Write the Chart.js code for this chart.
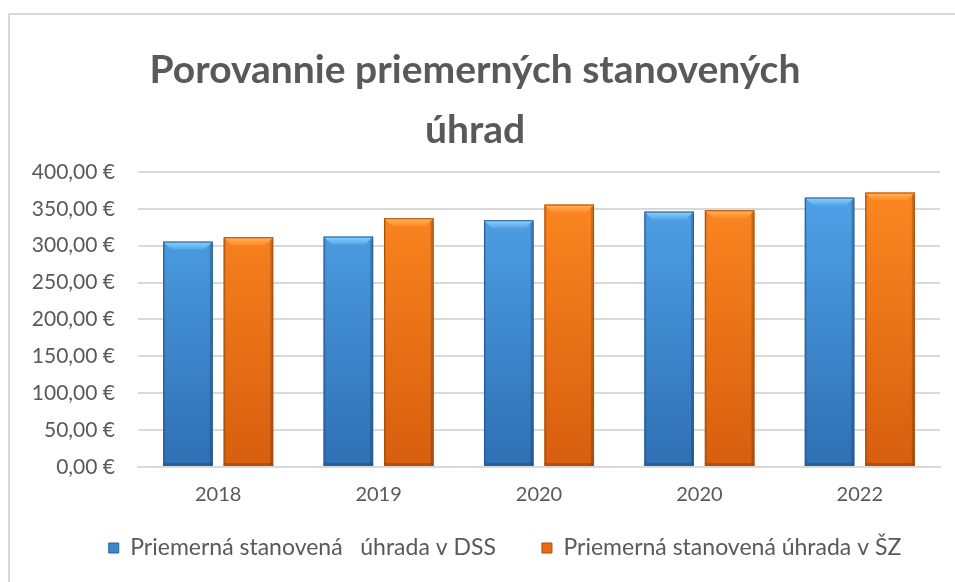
<!DOCTYPE html>
<html>
<head>
<meta charset="utf-8">
<title>Porovannie priemerných stanovených úhrad</title>
<script src="https://cdn.jsdelivr.net/npm/chart.js@4"></script>
<style>
    html, body { margin: 0; padding: 0; background: #ffffff; }
    #wrap { width: 955px; height: 582px; position: relative; }
</style>
</head>
<body>
<div id="wrap"><canvas id="chart"></canvas></div>
<script>
// údaje z grafu
const categories = ["2018", "2019", "2020", "2020", "2022"];
const dssValues = [305.5, 312.3, 334.5, 346.2, 365.2];
const szValues = [311.4, 337.2, 355.7, 348.0, 372.0];
const seriesNames = ["Priemerná stanovená   úhrada v DSS", "Priemerná stanovená úhrada v ŠZ"];
const titleLines = ["Porovannie priemerných stanovených", "úhrad"];
const yMax = 400;
const yStep = 50;

const FONT = "Lato, 'Open Sans', sans-serif";
const TEXT = "#595959";

// farby pre stĺpce
const palette = [
    { top: "#52a6ec", bottom: "#2f6fb3", cap: "#8fd2f8", edge: "#2a5f98", key: "#3c86d0" },
    { top: "#ff8a22", bottom: "#d65e0e", cap: "#ffb55e", edge: "#a9500d", key: "#e96a12" }
];

function faceGradient(idx) {
    return function (ctx) {
        const chart = ctx.chart;
        const area = chart.chartArea;
        if (!area) return palette[idx].top;
        const g = chart.ctx.createLinearGradient(0, area.top, 0, area.bottom);
        g.addColorStop(0, palette[idx].top);
        g.addColorStop(1, palette[idx].bottom);
        return g;
    };
}

function euro(v) {
    return v.toFixed(2).replace(".", ",") + " €";
}

// rámček okolo grafu (vľavo a hore)
const framePlugin = {
    id: "frame",
    beforeDraw(chart) {
        const c = chart.ctx;
        c.save();
        c.strokeStyle = "#d9d9d9";
        c.lineWidth = 2;
        c.beginPath();
        c.moveTo(9, 600);
        c.lineTo(9, 14);
        c.lineTo(970, 14);
        c.stroke();
        c.restore();
    }
};

// legenda je v origináli posunutá doprava
const legendShift = {
    id: "legendShift",
    afterLayout(chart) {
        const lg = chart.legend;
        lg.left += 30;
        lg.right += 30;
        const top = 548 - lg.options.labels.padding - 11.5;
        lg.bottom = top + lg.height;
        lg.top = top;
    }
};

// skosenie hornej hrany stĺpcov
const bevelPlugin = {
    id: "bevel",
    afterDatasetsDraw(chart) {
        const c = chart.ctx;
        chart.data.datasets.forEach((ds, di) => {
            const meta = chart.getDatasetMeta(di);
            const col = palette[di];
            meta.data.forEach(el => {
                const p = el.getProps(["x", "y", "base", "width"], true);
                const l = p.x - p.width / 2;
                const r = p.x + p.width / 2;
                const b = 8;
                c.save();
                const g = c.createLinearGradient(0, p.y, 0, p.y + b);
                g.addColorStop(0, col.cap);
                g.addColorStop(1, col.top);
                c.fillStyle = g;
                c.beginPath();
                c.moveTo(l, p.y);
                c.lineTo(r, p.y);
                c.lineTo(r - b, p.y + b);
                c.lineTo(l + b, p.y + b);
                c.closePath();
                c.fill();
                c.fillStyle = "rgba(0,0,0,0.18)";
                c.fillRect(r - 3, p.y + 2, 3, p.base - p.y - 2);
                c.fillStyle = "rgba(0,0,0,0.10)";
                c.fillRect(l, p.y + 2, 2, p.base - p.y - 2);
                c.fillStyle = "rgba(0,0,0,0.15)";
                c.fillRect(l, p.base - 3, p.width, 3);
                c.strokeStyle = col.edge;
                c.lineWidth = 1;
                c.strokeRect(l + 0.5, p.y + 0.5, p.width - 1, p.base - p.y - 1);
                c.restore();
            });
        });
    }
};

new Chart(document.getElementById("chart"), {
    type: "bar",
    data: {
        labels: categories,
        datasets: [
            { label: seriesNames[0], data: dssValues, backgroundColor: faceGradient(0) },
            { label: seriesNames[1], data: szValues, backgroundColor: faceGradient(1) }
        ]
    },
    options: {
        responsive: true,
        maintainAspectRatio: false,
        animation: false,
        layout: { padding: { left: 10, right: 15, top: 28, bottom: -24 } },
        datasets: {
            bar: { categoryPercentage: 0.754, barPercentage: 0.82 }
        },
        scales: {
            x: {
                grid: { display: false },
                border: { color: "#d9d9d9", width: 2 },
                ticks: { color: TEXT, font: { family: FONT, size: 20 }, padding: 8 },
                afterFit(scale) { scale.height = 60; }
            },
            y: {
                min: 0,
                max: yMax,
                grid: { color: "#d9d9d9", lineWidth: 2, drawTicks: false },
                border: { display: false },
                ticks: {
                    stepSize: yStep,
                    color: TEXT,
                    padding: 23,
                    font: { family: FONT, size: 21 },
                    callback: v => euro(v)
                },
                afterFit(scale) { scale.width = 128; }
            }
        },
        plugins: {
            title: {
                display: true,
                text: titleLines,
                color: TEXT,
                font: { family: FONT, size: 39, weight: "bold", lineHeight: 1.55 },
                padding: { top: 12, bottom: 11 }
            },
            legend: {
                position: "bottom",
                labels: {
                    color: TEXT,
                    font: { family: FONT, size: 23 },
                    boxWidth: 10,
                    boxHeight: 10,
                    padding: 46,
                    generateLabels(chart) {
                        return chart.data.datasets.map((ds, i) => ({
                            text: ds.label,
                            fillStyle: palette[i].key,
                            strokeStyle: palette[i].edge,
                            lineWidth: 1,
                            fontColor: TEXT,
                            datasetIndex: i
                        }));
                    }
                }
            },
            tooltip: { enabled: false }
        }
    },
    plugins: [framePlugin, legendShift, bevelPlugin]
});
</script>
</body>
</html>
